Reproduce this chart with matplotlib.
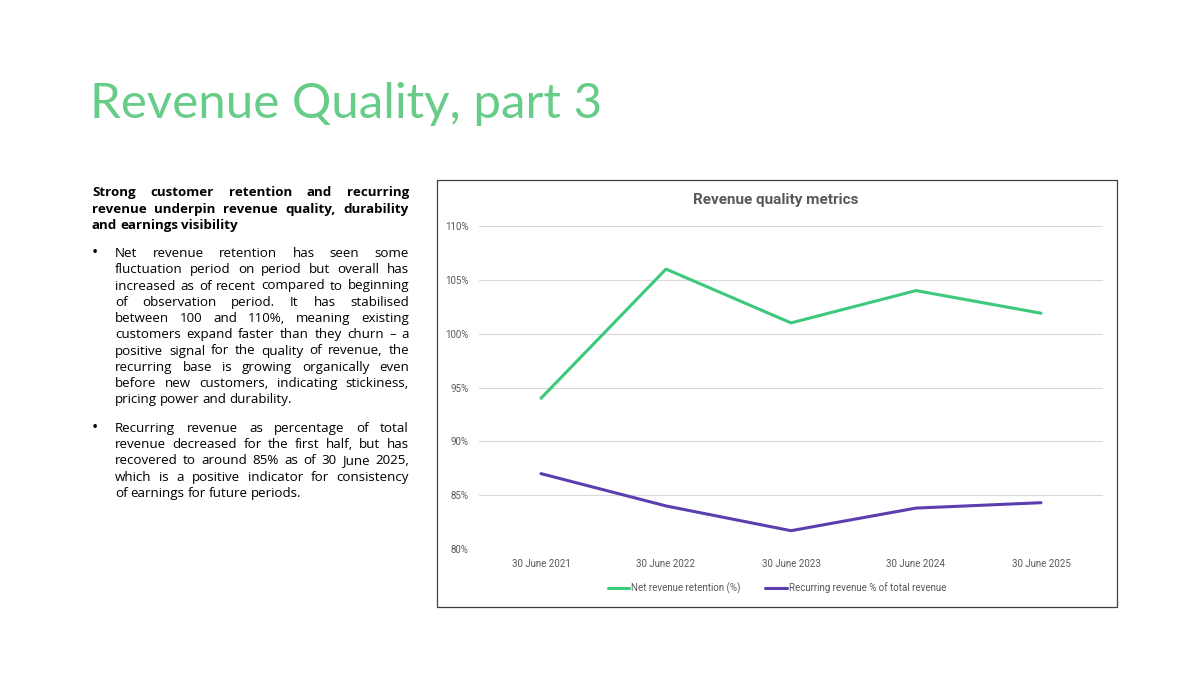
import matplotlib
matplotlib.use("Agg")
import matplotlib.pyplot as plt
from matplotlib.patches import Rectangle
from matplotlib.ticker import PercentFormatter

W, H = 1200, 675

# data
periods = ["30 June 2021", "30 June 2022", "30 June 2023", "30 June 2024", "30 June 2025"]
nrr = [94.0, 106.0, 101.0, 104.0, 101.9]
recurring = [87.0, 84.0, 81.7, 83.8, 84.3]
series_labels = ["Net revenue retention (%)", "Recurring revenue % of total revenue"]

slide_title = "Revenue Quality, part 3"
chart_title = "Revenue quality metrics"
heading_lines = [
    "Strong customer retention and recurring",
    "revenue underpin revenue quality, durability",
    "and earnings visibility",
]
bullet1_lines = [
    "Net revenue retention has seen some",
    "fluctuation period on period but overall has",
    "increased as of recent compared to beginning",
    "of observation period. It has stabilised",
    "between 100 and 110%, meaning existing",
    "customers expand faster than they churn \u2013 a",
    "positive signal for the quality of revenue, the",
    "recurring base is growing organically even",
    "before new customers, indicating stickiness,",
    "pricing power and durability.",
]
bullet2_lines = [
    "Recurring revenue as percentage of total",
    "revenue decreased for the first half, but has",
    "recovered to around 85% as of 30 June 2025,",
    "which is a positive indicator for consistency",
    "of earnings for future periods.",
]

GREEN_TITLE = "#66cc88"
GREEN = "#3cc97b"
PURPLE = "#5b3fae"
GREY = "#595959"
BODY_FONT = ["Open Sans", "DejaVu Sans"]
CHART_FONT = ["Roboto", "DejaVu Sans"]

fig = plt.figure(figsize=(W / 100, H / 100), dpi=100)
fig.patch.set_facecolor("white")
renderer = fig.canvas.get_renderer()


def fx(px):
    return px / W


def fy(py):
    return 1 - py / H


def justified_line(text, x0, x1, y, justify=True, **kw):
    # y is the baseline in pixels from the top
    words = text.split()
    objs = [fig.text(0, fy(y), w, va="baseline", ha="left", **kw) for w in words]
    widths = [o.get_window_extent(renderer).width for o in objs]
    if justify and len(words) > 1:
        gap = (x1 - x0 - sum(widths)) / (len(words) - 1)
    else:
        gap = objs[0].get_fontsize() * 0.3
    x = x0
    for o, w in zip(objs, widths):
        o.set_x(fx(x))
        x += w + gap


def paragraph(lines, x0, x1, y0, step, **kw):
    for i, line in enumerate(lines):
        justified_line(line, x0, x1, y0 + i * step, justify=(i < len(lines) - 1), **kw)


# slide title
fig.text(fx(90), fy(118), slide_title, color=GREEN_TITLE, fontsize=35.5,
         family=["Lato", "DejaVu Sans"], va="baseline", ha="left")

# left text block (baselines)
fs = 9.6
paragraph(heading_lines, 92, 409, 196, 16.5, fontsize=fs, fontweight="bold",
          family=BODY_FONT, color="black")
for yb in (257, 432):
    fig.text(fx(92), fy(yb), "\u2022", fontsize=12, family=BODY_FONT, va="baseline")
paragraph(bullet1_lines, 115, 409, 257, 16.25, fontsize=fs, family=BODY_FONT, color="black")
paragraph(bullet2_lines, 115, 409, 432, 16.25, fontsize=fs, family=BODY_FONT, color="black")

# chart frame
fig.patches.append(Rectangle((fx(437), fy(607)), fx(1117) - fx(437), fy(180) - fy(607),
                             transform=fig.transFigure, fill=False, edgecolor="#404040",
                             linewidth=0.9))
fig.text(fx(776), fy(200), chart_title, fontsize=11, fontweight="bold", color=GREY,
         family=CHART_FONT, ha="center", va="center")

ax = fig.add_axes([fx(478.5), fy(549), fx(1103.5) - fx(478.5), fy(226) - fy(549)])
x = range(len(periods))
ax.plot(x, nrr, color=GREEN, linewidth=2.2, label=series_labels[0], solid_capstyle="round")
ax.plot(x, recurring, color=PURPLE, linewidth=2.2, label=series_labels[1], solid_capstyle="round")
ax.set_xlim(-0.5, len(periods) - 0.5)
ax.set_ylim(80, 110)
ax.set_yticks(range(80, 111, 5))
ax.yaxis.set_major_formatter(PercentFormatter(decimals=0))
ax.set_xticks(list(x))
ax.set_xticklabels(periods)
ax.grid(axis="y", color="#d9d9d9", linewidth=0.8)
ax.set_axisbelow(True)
for s in ax.spines.values():
    s.set_visible(False)
ax.tick_params(length=0, labelsize=7, labelcolor=GREY)
ax.tick_params(axis="x", pad=7)
ax.tick_params(axis="y", pad=7)
for lab in ax.get_xticklabels() + ax.get_yticklabels():
    lab.set_family(CHART_FONT)

leg = fig.legend(loc="center", bbox_to_anchor=(fx(777), fy(588)), ncol=2, frameon=False,
                 handlelength=2.2, handletextpad=0.2, columnspacing=2.5,
                 prop={"family": CHART_FONT, "size": 7})
for t in leg.get_texts():
    t.set_color(GREY)

fig.savefig("out.png", dpi=100)
